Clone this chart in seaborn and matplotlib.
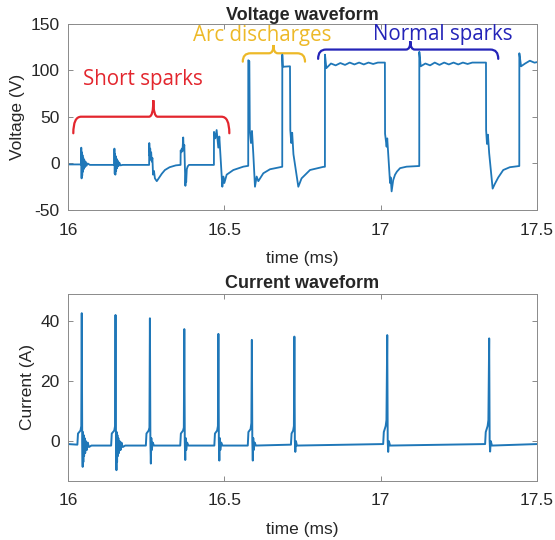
import matplotlib
matplotlib.use('Agg')
import matplotlib.pyplot as plt
from matplotlib.path import Path
from matplotlib.patches import PathPatch
import pandas as pd
import seaborn as sns

# voltage trace, (time ms, volts)
volt_pts = [
    (16.000, -1), (16.042, -1),
    # short spark 1
    (16.0425, 17), (16.0435, -16), (16.0445, 12), (16.0455, -13), (16.0465, 9),
    (16.0475, -9), (16.049, 6), (16.0505, -6), (16.052, 4), (16.054, -4),
    (16.056, 2), (16.059, -2.5), (16.063, 0), (16.070, -1.5), (16.148, -1.5),
    # short spark 2
    (16.1485, 16), (16.1495, -11), (16.1505, 10), (16.1515, -12), (16.1525, 8),
    (16.154, -8), (16.1555, 5), (16.157, -5), (16.159, 3), (16.161, -3),
    (16.164, 1), (16.168, -2), (16.175, -1.5), (16.2595, -1.5),
    # short spark 3
    (16.260, 22), (16.2615, 8), (16.263, 16), (16.2645, 4), (16.266, 12),
    (16.268, 2), (16.270, 6), (16.272, -12), (16.275, -8), (16.278, -16),
    (16.284, -19), (16.290, -16), (16.300, -11), (16.310, -7), (16.325, -4),
    (16.345, -2), (16.360, -1.5),
    # short spark 4
    (16.3603, 14), (16.362, 12), (16.364, 16), (16.366, 13), (16.3685, 28),
    (16.370, 15), (16.372, 20), (16.3735, 2), (16.3755, -24), (16.377, -12),
    (16.378, -20), (16.380, -6), (16.383, -3), (16.387, -1.5), (16.4667, -1.5),
    # short spark 5
    (16.4669, 34), (16.4711, 27), (16.4754, 36), (16.4807, 17), (16.4840, 29),
    (16.4883, 5), (16.4936, -25), (16.4968, -14), (16.5000, -21), (16.5075, -12),
    (16.5288, -7), (16.5607, -3.4), (16.5764, -2.5),
    # arc 1
    (16.5766, 111), (16.5800, 110), (16.5815, 36), (16.5852, 22), (16.5884, 35),
    (16.5927, 10), (16.598, -25), (16.6034, -14), (16.6087, -19), (16.6247, -10.5),
    (16.646, -6.2), (16.6834, -3.6), (16.6852, -3.5),
    # arc 2
    (16.6854, 117), (16.6870, 104), (16.7100, 104.5), (16.7110, 36), (16.7140, 22),
    (16.7170, 33), (16.7210, 10), (16.7366, -25), (16.7470, -16), (16.7740, -7),
    (16.8166, -3.6), (16.8217, -3.5),
    # normal spark 1
    (16.8219, 117), (16.8262, 102.5), (16.841, 107.5), (16.856, 105.5),
    (16.871, 108), (16.886, 106), (16.901, 108.5), (16.916, 106.5), (16.931, 108.5),
    (16.946, 106.5), (16.961, 108.5), (16.976, 107), (16.991, 108.5), (17.0135, 108.5),
    (17.0140, 32), (17.0190, 18), (17.0210, 27), (17.0250, 5), (17.0300, -21),
    (17.0320, -15), (17.0350, -30), (17.0400, -18), (17.0460, -12), (17.0520, -8.7),
    (17.0620, -5), (17.0830, -3.4), (17.1234, -2.7),
    # normal spark 2
    (17.1236, 120), (17.1280, 104.5), (17.143, 107.5), (17.158, 105.5),
    (17.173, 108.5), (17.188, 106), (17.203, 108.5), (17.218, 106.5), (17.233, 108.5),
    (17.248, 106.5), (17.263, 108.5), (17.278, 107), (17.293, 108.5), (17.3368, 108.5),
    (17.3372, 36), (17.340, 21), (17.343, 31), (17.347, 11), (17.3581, -27),
    (17.365, -22), (17.376, -15), (17.392, -7), (17.413, -4), (17.4433, -2.7),
    # normal spark 3
    (17.4435, 118.5), (17.4490, 104.5), (17.462, 107.5), (17.477, 110.5),
    (17.492, 108.4), (17.500, 109),
]

# current trace, (time ms, amps)
curr_pts = [
    (16.000, -1.0), (16.030, -1.2),
    (16.032, 2.5), (16.040, 3.5), (16.0425, 5), (16.044, 42.6), (16.0455, 0),
    (16.047, -8.6), (16.048, 3), (16.049, -7), (16.050, 2), (16.0515, -5),
    (16.053, 1), (16.055, -4), (16.057, 0), (16.060, -3), (16.063, -0.5),
    (16.067, -2), (16.075, -1.5),
    (16.138, -1.5), (16.140, 2.5), (16.148, 3.5), (16.1505, 5), (16.152, 42.0),
    (16.1535, 0), (16.155, -9.7), (16.156, 3), (16.157, -7), (16.158, 2),
    (16.1595, -5), (16.161, 1), (16.163, -4), (16.165, 0), (16.168, -3),
    (16.171, -0.5), (16.175, -2), (16.183, -1.5),
    (16.249, -1.5), (16.251, 2.5), (16.258, 3.5), (16.2605, 4.5), (16.262, 40.9),
    (16.2635, 0), (16.265, -7.5), (16.2665, 1), (16.268, -3), (16.271, -0.5),
    (16.275, -1.5),
    (16.359, -1.5), (16.361, 2.5), (16.368, 3.5), (16.3705, 4.5), (16.372, 37.3),
    (16.3735, 0), (16.375, -6.3), (16.3765, 1), (16.378, -3), (16.381, -0.5),
    (16.385, -1.5),
    (16.468, -1.5), (16.470, 2.5), (16.477, 3.5), (16.4795, 5), (16.481, 35.7),
    (16.4825, 0), (16.484, -6.5), (16.4855, 1), (16.487, -3), (16.490, -0.5),
    (16.494, -1.5),
    (16.575, -1.5), (16.577, 3), (16.584, 4), (16.5865, 6), (16.588, 33.7),
    (16.5895, 0), (16.591, -6.5), (16.5925, 1), (16.594, -3), (16.597, -0.5),
    (16.601, -1.5),
    (16.713, -1.2), (16.715, 2.5), (16.720, 3.5), (16.7225, 5), (16.724, 34.8),
    (16.7255, 0), (16.727, -3.6), (16.729, 0), (16.732, -1.5),
    (17.008, -1.0), (17.010, 3), (17.016, 5), (17.0185, 7), (17.021, 35.3),
    (17.0225, 0), (17.024, -3.6), (17.026, 0), (17.030, -1.5),
    (17.334, -1.0), (17.336, 3), (17.342, 5), (17.3445, 7), (17.347, 34.2),
    (17.3485, 0), (17.350, -3.5), (17.352, 0), (17.356, -1.5),
    (17.500, -1.0),
]

x_ticks = [16, 16.5, 17, 17.5]
x_labels = ['16', '16.5', '17', '17.5']
volt_ticks = [-50, 0, 50, 100, 150]
curr_ticks = [0, 20, 40]

# braces: label, colour, left, right, centre, tip, bar, peak, text x, text y
braces = [
    ('Short sparks', '#E3262E', 16.017, 16.516, 16.273, 32.5, 50.3, 68, 16.24, 90),
    ('Arc discharges', '#EDB928', 16.559, 16.758, 16.657, 109.5, 118.5, 127.4, 16.622, 138),
    ('Normal sparks', '#2424B8', 16.800, 17.376, 17.095, 112.5, 122.5, 131.5, 17.198, 139),
]

volt_df = pd.DataFrame(volt_pts, columns=['time', 'volt'])
curr_df = pd.DataFrame(curr_pts, columns=['time', 'curr'])

sns.set_theme(style='ticks')
plt.rcParams['font.family'] = ['Liberation Sans', 'DejaVu Sans']
plt.rcParams['axes.unicode_minus'] = False
plt.rcParams['axes.edgecolor'] = '#8a8a8a'
plt.rcParams['axes.linewidth'] = 0.7
plt.rcParams['xtick.color'] = '#8a8a8a'
plt.rcParams['ytick.color'] = '#8a8a8a'
plt.rcParams['xtick.labelcolor'] = '#262626'
plt.rcParams['ytick.labelcolor'] = '#262626'

line_color = '#1f77b8'
lab_size = 12.5

fig = plt.figure(figsize=(5.55, 5.4), dpi=100)
ax1 = fig.add_axes([0.1225, 0.6111, 0.8451, 0.3445])
ax2 = fig.add_axes([0.1225, 0.1093, 0.8451, 0.3463])


def style_axes(ax):
    ax.tick_params(direction='in', top=True, right=True, length=3.5,
                   width=0.7, labelsize=lab_size)
    ax.tick_params(axis='x', pad=9)
    ax.tick_params(axis='y', pad=6)
    for s in ax.spines.values():
        s.set_visible(True)


def brace(ax, x0, x1, xc, y_tip, y_bar, y_peak, color, w_end=0.025, w_mid=0.014):
    verts = [(x0, y_tip), (x0, y_bar), (x0 + w_end, y_bar),
             (xc - w_mid, y_bar), (xc, y_bar), (xc, y_peak),
             (xc, y_bar), (xc + w_mid, y_bar),
             (x1 - w_end, y_bar), (x1, y_bar), (x1, y_tip)]
    codes = [Path.MOVETO, Path.CURVE3, Path.CURVE3, Path.LINETO,
             Path.CURVE3, Path.CURVE3, Path.CURVE3, Path.CURVE3,
             Path.LINETO, Path.CURVE3, Path.CURVE3]
    ax.add_patch(PathPatch(Path(verts, codes), fill=False, edgecolor=color,
                           linewidth=1.6, capstyle='round'))


# voltage
sns.lineplot(data=volt_df, x='time', y='volt', ax=ax1, estimator=None,
             sort=False, color=line_color, linewidth=1.3)
ax1.set_xlim(16, 17.5)
ax1.set_ylim(-50, 150)
ax1.set_xticks(x_ticks)
ax1.set_xticklabels(x_labels)
ax1.set_yticks(volt_ticks)
ax1.set_xlabel('time (ms)', fontsize=lab_size, color='#262626', labelpad=10)
ax1.set_ylabel('Voltage (V)', fontsize=lab_size, color='#262626', labelpad=4)
ax1.set_title('Voltage waveform', fontsize=13, fontweight='bold', pad=3)
style_axes(ax1)

for lab, col, x0, x1, xc, yt, yb, yp, tx, ty in braces:
    brace(ax1, x0, x1, xc, yt, yb, yp, col)
    ax1.text(tx, ty, lab, color=col, fontsize=14.8, ha='center', va='center',
             family=['Open Sans', 'DejaVu Sans'])

# current
sns.lineplot(data=curr_df, x='time', y='curr', ax=ax2, estimator=None,
             sort=False, color=line_color, linewidth=1.4)
ax2.set_xlim(16, 17.5)
ax2.set_ylim(-13.3, 49)
ax2.set_xticks(x_ticks)
ax2.set_xticklabels(x_labels)
ax2.set_yticks(curr_ticks)
ax2.set_xlabel('time (ms)', fontsize=lab_size, color='#262626', labelpad=10)
ax2.set_ylabel('Current (A)', fontsize=lab_size, color='#262626', labelpad=4)
ax2.set_title('Current waveform', fontsize=13, fontweight='bold', pad=4)
style_axes(ax2)

fig.savefig('out.png', dpi=100)
